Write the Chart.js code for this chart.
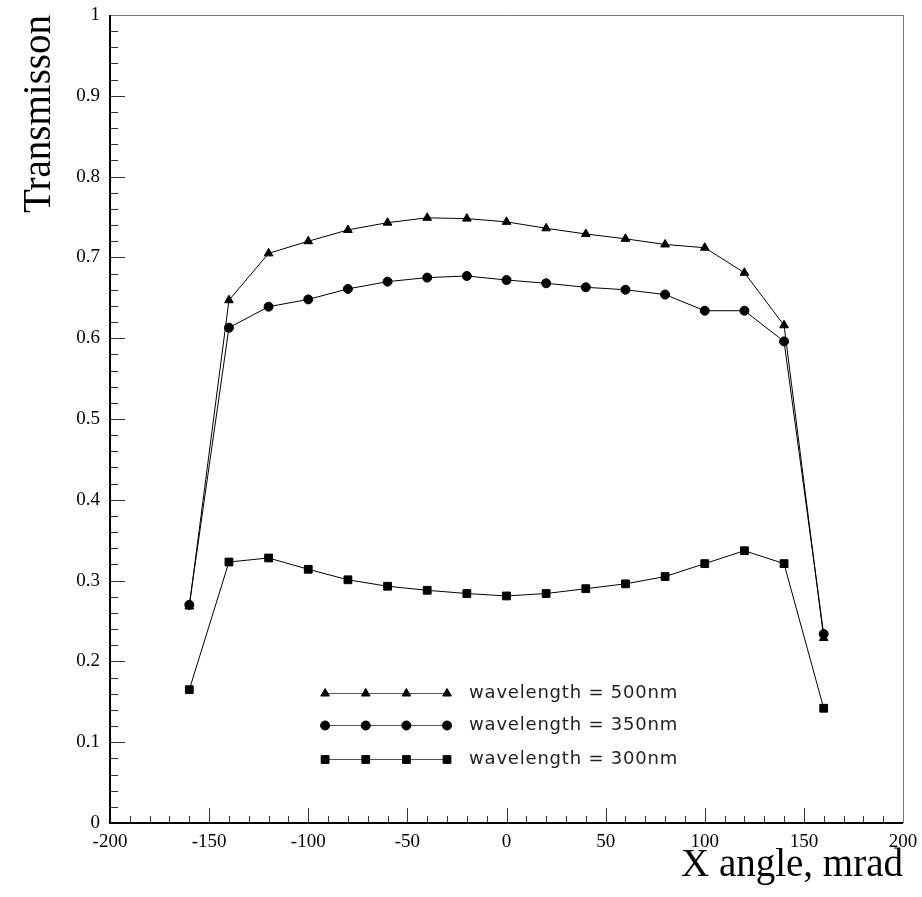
<!DOCTYPE html>
<html>
<head>
<meta charset="utf-8">
<script src="https://cdn.jsdelivr.net/npm/chart.js@4.4.1/dist/chart.umd.min.js"></script>
<style>
  html, body { margin: 0; padding: 0; background: #fff; }
  canvas { display: block; }
</style>
</head>
<body>
<canvas id="chart" width="922" height="897"></canvas>
<script>
// transmission vs X angle, three wavelengths
const angles   = [-160, -140, -120, -100, -80, -60, -40, -20, 0, 20, 40, 60, 80, 100, 120, 140, 160];
const trans500 = [0.268, 0.647, 0.705, 0.720, 0.734, 0.743, 0.749, 0.748, 0.744, 0.736, 0.729, 0.723, 0.716, 0.712, 0.681, 0.616, 0.229];
const trans350 = [0.270, 0.613, 0.639, 0.648, 0.661, 0.670, 0.675, 0.677, 0.672, 0.668, 0.663, 0.660, 0.654, 0.634, 0.634, 0.596, 0.234];
const trans300 = [0.165, 0.323, 0.328, 0.314, 0.301, 0.293, 0.288, 0.284, 0.281, 0.284, 0.290, 0.296, 0.305, 0.321, 0.337, 0.321, 0.142];
const seriesLabels = ['wavelength = 500nm', 'wavelength = 350nm', 'wavelength = 300nm'];
const seriesStyles = ['triangle', 'circle', 'rect'];

const xMin = -200, xMax = 200, xMajor = 50, xMinor = 10;
const yMin = 0, yMax = 1, yMajor = 0.1, yMinor = 0.02;

const pointSize = { triangle: 5, circle: 4.5, rect: 5.5 };

function toPoints(values) {
    return angles.map((a, i) => ({ x: a, y: values[i] }));
}

function marker(ctx, style, cx, cy, r) {
    ctx.beginPath();
    if (style === 'circle') {
        ctx.arc(cx, cy, r, 0, Math.PI * 2);
    } else if (style === 'rect') {
        const s = r * Math.SQRT1_2;
        ctx.rect(cx - s, cy - s, 2 * s, 2 * s);
    } else {
        ctx.moveTo(cx, cy - r);
        ctx.lineTo(cx + 0.866 * r, cy + 0.5 * r);
        ctx.lineTo(cx - 0.866 * r, cy + 0.5 * r);
    }
    ctx.closePath();
    ctx.fill();
    ctx.stroke();
}

// inward ticks + frame
const framePlugin = {
    id: 'frame',
    afterDraw(chart) {
        const { ctx, chartArea: a, scales: { x, y } } = chart;
        ctx.save();
        ctx.strokeStyle = '#333';
        ctx.lineWidth = 1;
        ctx.beginPath();
        for (let v = xMin; v <= xMax; v += xMinor) {
            const px = Math.round(x.getPixelForValue(v)) + 0.5;
            const len = v % xMajor === 0 ? 15 : 7;
            ctx.moveTo(px, a.bottom);
            ctx.lineTo(px, a.bottom - len);
        }
        const nY = Math.round((yMax - yMin) / yMinor);
        const perMajor = Math.round(yMajor / yMinor);
        for (let i = 0; i <= nY; i++) {
            const py = Math.round(y.getPixelForValue(yMin + i * yMinor)) + 0.5;
            const len = i % perMajor === 0 ? 15 : 8;
            ctx.moveTo(a.left, py);
            ctx.lineTo(a.left + len, py);
        }
        ctx.stroke();

        ctx.strokeStyle = '#777';
        ctx.beginPath();
        ctx.moveTo(a.left, a.top + 0.5);
        ctx.lineTo(a.right + 0.5, a.top + 0.5);
        ctx.lineTo(a.right + 0.5, a.bottom);
        ctx.stroke();

        ctx.strokeStyle = '#000';
        ctx.lineWidth = 2;
        ctx.beginPath();
        ctx.moveTo(a.left, a.top);
        ctx.lineTo(a.left, a.bottom);
        ctx.lineTo(a.right, a.bottom);
        ctx.stroke();
        ctx.restore();
    }
};

// legend: line with four markers, then text
const legendX = [-91.5, -30];
const legendY = [0.161, 0.121, 0.079];

const legendPlugin = {
    id: 'lineLegend',
    afterDatasetsDraw(chart) {
        const { ctx, scales: { x, y } } = chart;
        const x0 = x.getPixelForValue(legendX[0]);
        const x1 = x.getPixelForValue(legendX[1]);
        ctx.save();
        seriesLabels.forEach((label, i) => {
            const py = Math.round(y.getPixelForValue(legendY[i])) + 0.5;
            ctx.strokeStyle = '#555';
            ctx.lineWidth = 1;
            ctx.beginPath();
            ctx.moveTo(x0, py);
            ctx.lineTo(x1, py);
            ctx.stroke();
            ctx.fillStyle = '#000';
            ctx.strokeStyle = '#000';
            for (let k = 0; k < 4; k++) {
                marker(ctx, seriesStyles[i], x0 + (x1 - x0) * k / 3, py, pointSize[seriesStyles[i]]);
            }
            ctx.fillStyle = '#222';
            ctx.font = '18px "DejaVu Sans"';
            ctx.letterSpacing = '0.8px';
            ctx.textBaseline = 'middle';
            ctx.textAlign = 'left';
            ctx.fillText(label, x1 + 22, py);
        });
        ctx.restore();
    }
};

function makeDataset(values, i) {
    const style = seriesStyles[i];
    return {
        label: seriesLabels[i],
        data: toPoints(values),
        showLine: true,
        borderColor: '#000',
        borderWidth: 1,
        backgroundColor: '#000',
        pointStyle: style,
        pointRadius: pointSize[style],
        pointBackgroundColor: '#000',
        pointBorderColor: '#000',
        pointBorderWidth: 1,
        tension: 0,
        clip: false
    };
}

const serifFont = '"Liberation Serif", "Times New Roman", serif';

new Chart(document.getElementById('chart'), {
    type: 'line',
    data: {
        datasets: [makeDataset(trans300, 2), makeDataset(trans350, 1), makeDataset(trans500, 0)]
    },
    options: {
        responsive: false,
        animation: false,
        devicePixelRatio: 1,
        layout: { padding: { top: 15, right: 19, left: 0, bottom: 0 } },
        plugins: {
            legend: { display: false },
            tooltip: { enabled: false }
        },
        scales: {
            x: {
                type: 'linear',
                min: xMin,
                max: xMax,
                grid: { display: false, drawTicks: false },
                border: { display: false },
                ticks: {
                    stepSize: xMajor,
                    color: '#000',
                    padding: 8,
                    maxRotation: 0,
                    font: { family: serifFont, size: 19 }
                },
                title: {
                    display: true,
                    text: 'X angle, mrad',
                    align: 'end',
                    color: '#000',
                    padding: { top: 0, bottom: 8 },
                    font: { family: serifFont, size: 39 }
                },
                afterFit(scale) {
                    scale.height = 74;
                    scale.paddingLeft = 0;
                    scale.paddingRight = 0;
                }
            },
            y: {
                min: yMin,
                max: yMax,
                grid: { display: false, drawTicks: false },
                border: { display: false },
                ticks: {
                    stepSize: yMajor,
                    color: '#000',
                    padding: 10,
                    font: { family: serifFont, size: 19 },
                    callback: v => Math.round(v * 10) / 10
                },
                title: {
                    display: true,
                    text: 'Transmisson',
                    align: 'end',
                    color: '#000',
                    padding: { top: 16, bottom: 0 },
                    font: { family: serifFont, size: 39 }
                },
                afterFit(scale) {
                    scale.width = 110;
                    scale.paddingTop = 0;
                    scale.paddingBottom = 0;
                }
            }
        }
    },
    plugins: [framePlugin, legendPlugin]
});
</script>
</body>
</html>
